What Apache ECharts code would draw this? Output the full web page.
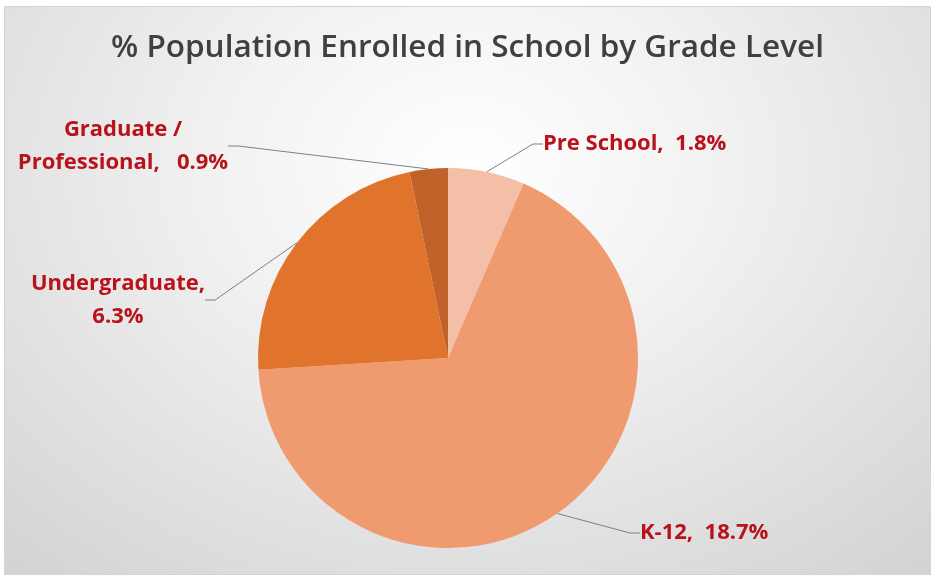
<!DOCTYPE html>
<html>
<head>
<meta charset="utf-8">
<script src="https://cdn.jsdelivr.net/npm/echarts@6/dist/echarts.min.js"></script>
<style>
html,body{margin:0;padding:0;background:#fff;}
#c{position:absolute;left:4px;top:6px;width:927px;height:569px;
background:radial-gradient(ellipse 75% 95% at 50% 28%, #ffffff 0%, #f2f2f2 35%, #d3d3d3 100%);
border:1px solid #d4d4d4;box-sizing:border-box;}
</style>
</head>
<body>
<div id="c"></div>
<script>
var titleText = '% Population Enrolled in School by Grade Level';
var categories = ['Pre School', 'K-12', 'Undergraduate', 'Graduate / Professional'];
var values = [1.8, 18.7, 6.3, 0.9];
var colors = ['#F5BEA7', '#F09A70', '#E0742C', '#C1622A'];
var labelTexts = ['Pre School,  1.8%', 'K-12,  18.7%', 'Undergraduate,\n6.3%', 'Graduate /\nProfessional,   0.9%'];
var labelSpots = [
  {x: 538, y: 137, align: 'left', verticalAlign: 'middle'},
  {x: 635, y: 526, align: 'left', verticalAlign: 'middle'},
  {x: 113, y: 293, align: 'center', verticalAlign: 'middle'},
  {x: 118, y: 139, align: 'center', verticalAlign: 'middle'}
];
var fontFam = '"Open Sans", sans-serif';
var chart = echarts.init(document.getElementById('c'), null, {renderer: 'canvas'});
chart.setOption({
  backgroundColor: 'transparent',
  title: {
    text: titleText, left: 'center', top: 20,
    textStyle: {fontFamily: fontFam, fontSize: 31.5, fontWeight: 600, color: '#404040'}
  },
  series: [{
    type: 'pie',
    center: [443, 351],
    radius: 190,
    startAngle: 90,
    clockwise: true,
    silent: true,
    data: categories.map(function (n, i) {
      return {name: n, value: values[i], itemStyle: {color: colors[i]}};
    }),
    label: {
      show: true,
      formatter: function (p) { return labelTexts[p.dataIndex]; },
      fontFamily: fontFam, fontSize: 22, fontWeight: 'bold', color: '#B8121B', lineHeight: 33
    },
    labelLine: {show: true, length: 20, length2: 10, lineStyle: {color: '#7f7f7f', width: 1}},
    labelLayout: function (p) { return labelSpots[p.dataIndex]; }
  }]
});
</script>
</body>
</html>
